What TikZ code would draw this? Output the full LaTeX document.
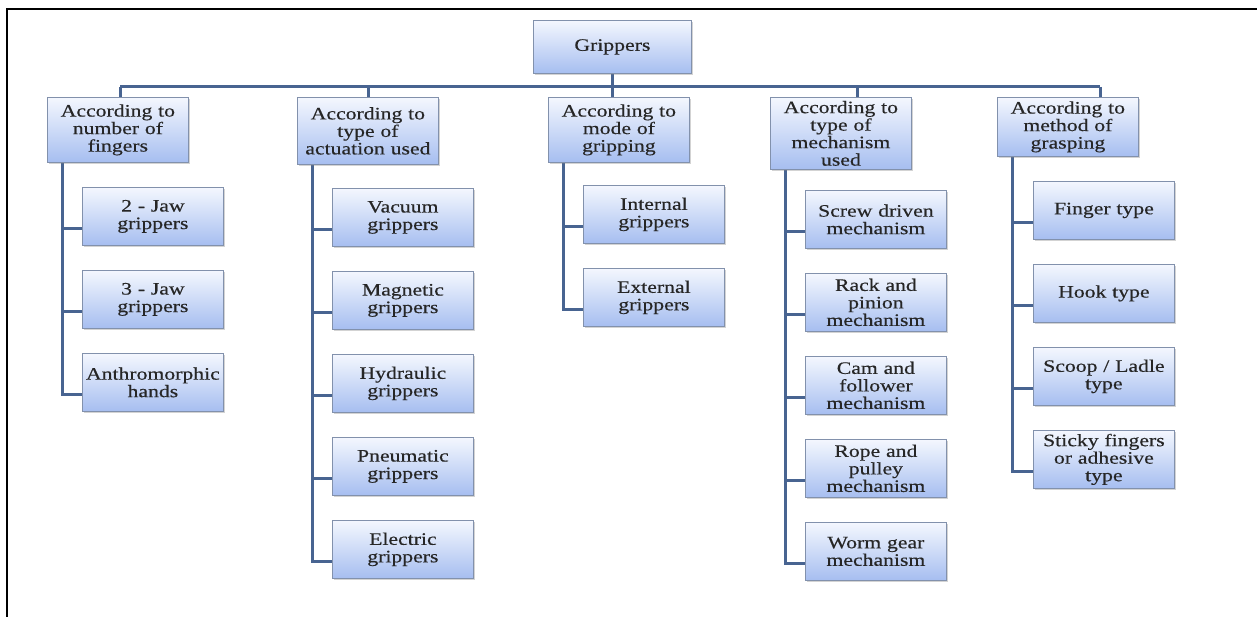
\documentclass[tikz,border=0pt]{standalone}
\usepackage{fontspec}
\setmainfont{Liberation Serif}[FakeStretch=1.24, FakeBold=0.4]
\usetikzlibrary{shadows,backgrounds}
\definecolor{linkblue}{RGB}{72,100,145}
\definecolor{boxtop}{RGB}{244,247,254}
\definecolor{boxbot}{RGB}{166,190,240}
\definecolor{boxline}{RGB}{130,145,172}
\tikzset{
  box/.style={draw=boxline, line width=0.8pt, top color=boxtop, bottom color=boxbot,
    drop shadow={shadow xshift=1.5pt, shadow yshift=-1.5pt, opacity=0.35},
    minimum width=141pt, text width=137pt, inner xsep=2pt, inner ysep=3pt,
    align=center, anchor=north west, text=black!85,
    font=\fontsize{17.5}{17.5}\selectfont},
  link/.style={draw=linkblue, line width=3pt}
}
\begin{document}
\begin{tikzpicture}[x=1pt, y=-1pt]
  \useasboundingbox (0,0) rectangle (1257,617);
  % Frame
  \draw[line width=2pt] (7,617) -- (7,9) -- (1257,9);
  % Top box
  \node[box, minimum width=158pt, minimum height=53pt] (root) at (533,20) {Grippers};
  % Categories
  \foreach \n/\x/\h/\txt in {1/47/65/{According to\\number of\\fingers},
      2/297/67/{According to\\type of\\actuation used},
      3/548/65/{According to\\mode of\\gripping},
      4/770/72/{According to\\type of\\mechanism\\used},
      5/997/59/{According to\\method of\\grasping}}
    \node[box, minimum height=\h pt] (l\n) at (\x,97) {\txt};
  \foreach \n/\x in {1/120, 2/368, 3/612, 4/857, 5/1100}
    \coordinate (bus\n) at (\x,87);
  \begin{scope}[on background layer]
    \draw[link] (root.south) -- (root |- bus1);
    \draw[link] (bus1) -- (bus5);
    \foreach \n in {1,...,5}
      \draw[link] (bus\n) -- (bus\n |- l\n.north);
  \end{scope}
  % Types
  \foreach \col/\x/\y/\list in {
      1/82/187/{{2 - Jaw\\grippers},{3 - Jaw\\grippers},{Anthromorphic\\hands}},
      2/332/188/{{Vacuum\\grippers},{Magnetic\\grippers},{Hydraulic\\grippers},{Pneumatic\\grippers},{Electric\\grippers}},
      3/583/185/{{Internal\\grippers},{External\\grippers}},
      4/805/190/{{Screw driven\\mechanism},{Rack and\\pinion\\mechanism},{Cam and\\follower\\mechanism},{Rope and\\pulley\\mechanism},{Worm gear\\mechanism}},
      5/1033/181/{{Finger type},{Hook type},{Scoop / Ladle\\type},{Sticky fingers\\or adhesive\\type}}}
    \foreach \t [count=\j] in \list {
      \node[box, minimum height=58pt] (c\col-\j) at (\x,{\y+83*(\j-1)}) {\t};
      \begin{scope}[on background layer]
        \draw[link] ([xshift=15pt]l\col.south west) |- ([yshift=-12pt]c\col-\j.west);
      \end{scope}
    };
\end{tikzpicture}
\end{document}
